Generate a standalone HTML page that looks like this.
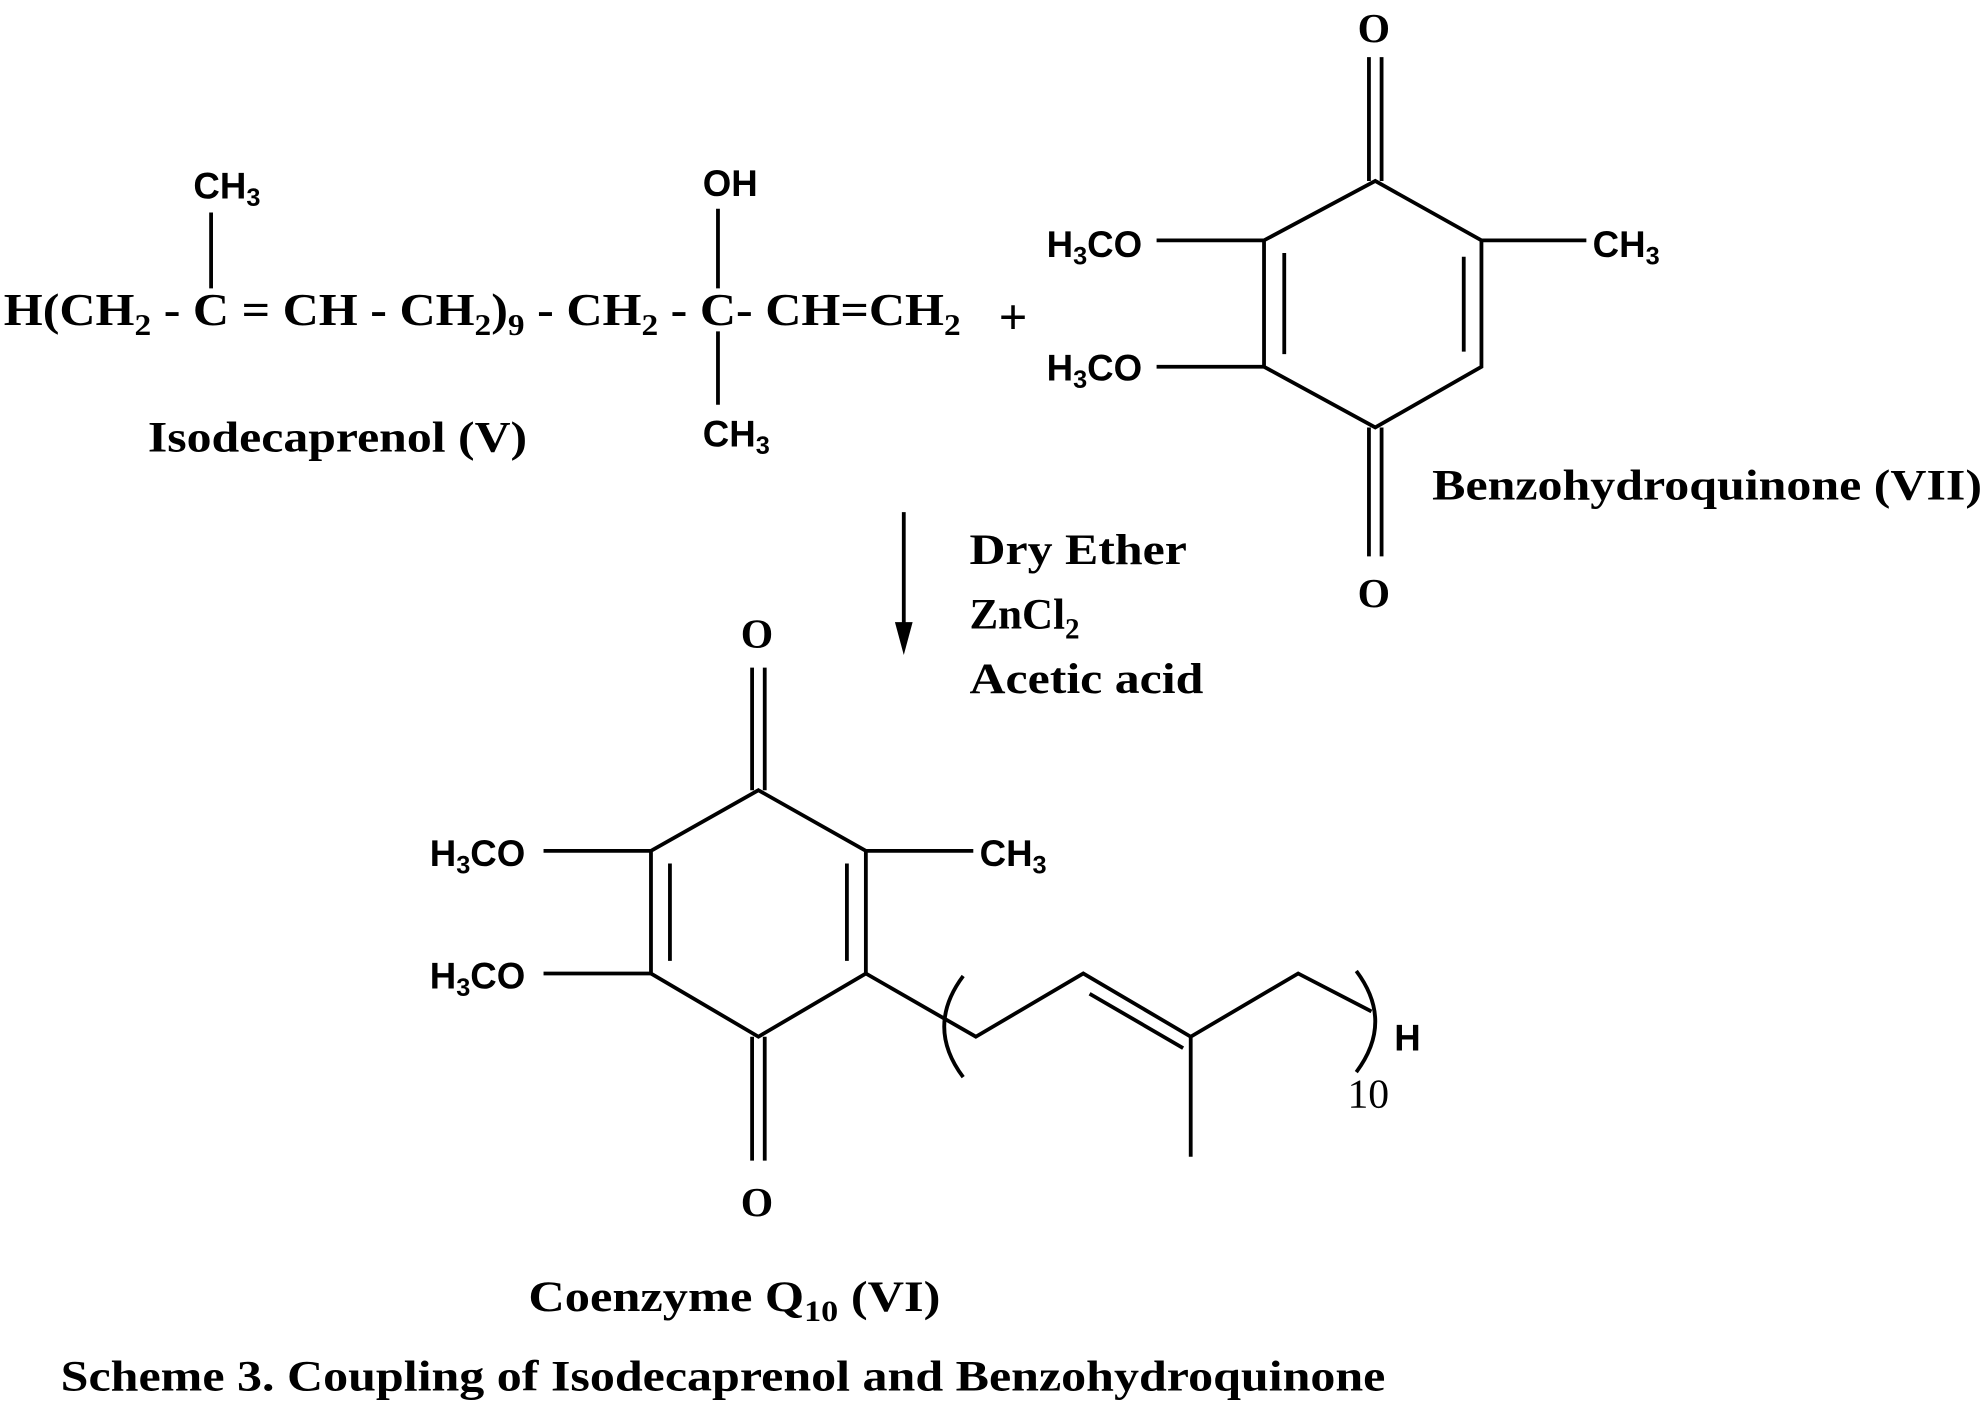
<!DOCTYPE html>
<html><head><meta charset="utf-8"><style>html,body{margin:0;padding:0;background:#fff}svg{display:block}</style></head>
<body>
<svg width="1982" height="1406" viewBox="0 0 1568 1112" xmlns="http://www.w3.org/2000/svg">
<g font-family="Liberation Serif, serif" font-weight="bold" fill="#000">
<text x="3" y="257" font-size="36" textLength="757" lengthAdjust="spacingAndGlyphs">H(CH<tspan font-size="24" dy="8">2</tspan><tspan dy="-8"> - C = CH - CH</tspan><tspan font-size="24" dy="8">2</tspan><tspan dy="-8">)</tspan><tspan font-size="24" dy="8">9</tspan><tspan dy="-8"> - CH</tspan><tspan font-size="24" dy="8">2</tspan><tspan dy="-8"> - C- CH=CH</tspan><tspan font-size="24" dy="8">2</tspan></text>
<text x="117" y="357" font-size="34" textLength="300" lengthAdjust="spacingAndGlyphs">Isodecaprenol (V)</text>
<text x="790" y="264" font-size="40">+</text>
<text x="1133" y="395" font-size="34" textLength="435" lengthAdjust="spacingAndGlyphs">Benzohydroquinone (VII)</text>
<text x="1074" y="33" font-size="33">O</text>
<text x="1074" y="480" font-size="33">O</text>
<text x="767" y="446" font-size="34" textLength="172" lengthAdjust="spacingAndGlyphs">Dry Ether</text>
<text x="767" y="497" font-size="34">ZnCl<tspan font-size="23" dy="8">2</tspan></text>
<text x="767" y="548" font-size="34" textLength="185" lengthAdjust="spacingAndGlyphs">Acetic acid</text>
<text x="586" y="512" font-size="33">O</text>
<text x="586" y="962" font-size="33">O</text>
<text x="1066" y="876" font-size="33" font-weight="normal">10</text>
<text x="418" y="1037" font-size="34" textLength="326" lengthAdjust="spacingAndGlyphs">Coenzyme Q<tspan font-size="23" dy="8">10</tspan><tspan dy="-8"> (VI)</tspan></text>
<text x="48" y="1100" font-size="34" textLength="1048" lengthAdjust="spacingAndGlyphs">Scheme 3. Coupling of Isodecaprenol and Benzohydroquinone</text>
</g>
<g font-family="Liberation Sans, sans-serif" font-weight="bold" font-size="29" fill="#000">
<text x="153" y="157">CH<tspan font-size="20" dy="6">3</tspan></text>
<text x="556" y="155">OH</text>
<text x="556" y="353">CH<tspan font-size="20" dy="6">3</tspan></text>
<text x="828" y="203">H<tspan font-size="20" dy="6">3</tspan><tspan dy="-6">CO</tspan></text>
<text x="828" y="301">H<tspan font-size="20" dy="6">3</tspan><tspan dy="-6">CO</tspan></text>
<text x="1260" y="203">CH<tspan font-size="20" dy="6">3</tspan></text>
<text x="340" y="685">H<tspan font-size="20" dy="6">3</tspan><tspan dy="-6">CO</tspan></text>
<text x="340" y="782">H<tspan font-size="20" dy="6">3</tspan><tspan dy="-6">CO</tspan></text>
<text x="775" y="685">CH<tspan font-size="20" dy="6">3</tspan></text>
<text x="1103" y="831">H</text>
</g>
<g stroke="#000" stroke-width="3" fill="none">
<line x1="167" y1="168" x2="167" y2="228"/>
<line x1="568" y1="165" x2="568" y2="228"/>
<line x1="568" y1="262" x2="568" y2="320"/>
<polygon points="1088,143 1172,190 1172,290 1088,338 1000,290 1000,190"/>
<line x1="1016" y1="200" x2="1016" y2="280"/>
<line x1="1158" y1="203" x2="1158" y2="278"/>
<line x1="1083" y1="45" x2="1083" y2="143"/><line x1="1093" y1="45" x2="1093" y2="143"/>
<line x1="1083" y1="338" x2="1083" y2="440"/><line x1="1093" y1="338" x2="1093" y2="440"/>
<line x1="915" y1="190" x2="1000" y2="190"/>
<line x1="915" y1="290" x2="1000" y2="290"/>
<line x1="1172" y1="190" x2="1255" y2="190"/>
<line x1="715" y1="405" x2="715" y2="500"/>
<polygon points="600,625 685,673 685,770 600,820 515,770 515,673"/>
<line x1="530" y1="683" x2="530" y2="760"/>
<line x1="670" y1="683" x2="670" y2="760"/>
<line x1="595" y1="528" x2="595" y2="625"/><line x1="605" y1="528" x2="605" y2="625"/>
<line x1="595" y1="820" x2="595" y2="918"/><line x1="605" y1="820" x2="605" y2="918"/>
<line x1="430" y1="673" x2="515" y2="673"/>
<line x1="430" y1="770" x2="515" y2="770"/>
<line x1="685" y1="673" x2="770" y2="673"/>
<polyline points="685,770 772,820 857,770 942,820 1027,770 1085,800"/>
<line x1="862" y1="786" x2="936" y2="829"/>
<line x1="942" y1="820" x2="942" y2="915"/>
<path d="M762,772 Q732,812 762,852"/>
<path d="M1073,768 Q1103,808 1073,848"/>
</g>
<polygon points="715,518 708,492 722,492" fill="#000"/>
</svg>
</body></html>
